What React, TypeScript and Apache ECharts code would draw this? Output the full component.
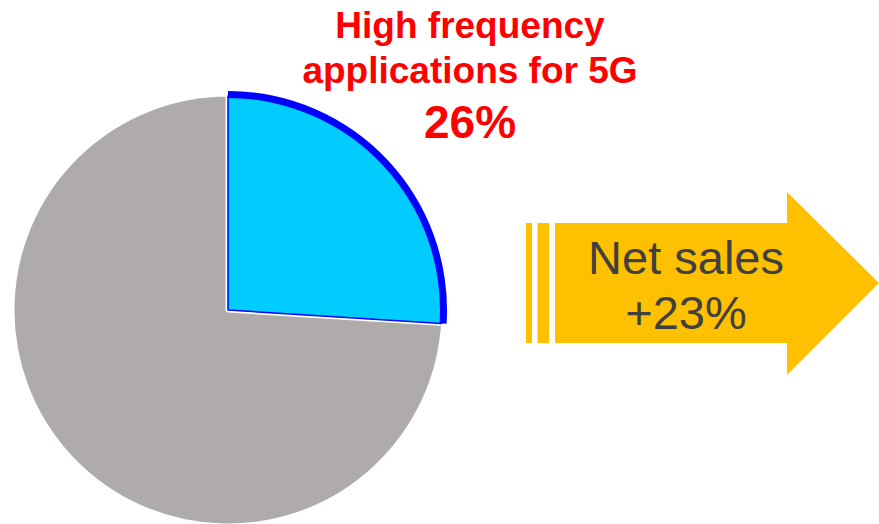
import React, { useEffect, useRef } from "react";
import * as echarts from "echarts";

const categories = ["High frequency applications for 5G", "Other"];
const shares = [26, 74];
const sliceColors = ["#00CCFF", "#AFABAB"];
const titleLines = ["High frequency", "applications for 5G"];
const growthLabel = "Net sales";
const growthValue = 23;

const FONT = "'Liberation Sans', Arial, Helvetica, sans-serif";

export default function App() {
  const ref = useRef<HTMLDivElement>(null);

  useEffect(() => {
    if (!ref.current) return;
    const chart = echarts.init(ref.current, null, { renderer: "svg" });
    const center = [228, 310];

    const option = {
      animation: false,
      backgroundColor: "#ffffff",
      series: [
        {
          type: "pie",
          silent: true,
          center,
          radius: 216,
          startAngle: 90,
          clockwise: true,
          label: { show: false },
          labelLine: { show: false },
          data: categories.map((name, i) => ({
            name,
            value: shares[i],
            itemStyle:
              i === 0
                ? { color: "rgba(0,0,0,0)", borderWidth: 0 }
                : { color: sliceColors[1], borderColor: "#ffffff", borderWidth: 5 },
          })),
        },
        {
          type: "pie",
          silent: true,
          center,
          radius: 214,
          startAngle: 90,
          clockwise: true,
          label: { show: false },
          labelLine: { show: false },
          data: categories.map((name, i) => ({
            name,
            value: shares[i],
            itemStyle:
              i === 0
                ? { color: sliceColors[0], borderColor: "#0000FF", borderWidth: 1.5 }
                : { color: "rgba(0,0,0,0)", borderWidth: 0 },
          })),
        },
        {
          type: "pie",
          silent: true,
          center,
          radius: [212, 219],
          startAngle: 90,
          clockwise: true,
          label: { show: false },
          labelLine: { show: false },
          data: categories.map((name, i) => ({
            name,
            value: shares[i],
            itemStyle:
              i === 0
                ? { color: "#0000FF", borderWidth: 0 }
                : { color: "rgba(0,0,0,0)", borderWidth: 0 },
          })),
        },
      ],
      graphic: [
        {
          type: "text",
          x: 470,
          y: 25,
          style: {
            text: titleLines[0],
            fill: "#FF0000",
            font: `bold 37px ${FONT}`,
            textAlign: "center",
            textVerticalAlign: "middle",
          },
        },
        {
          type: "text",
          x: 470,
          y: 70,
          style: {
            text: titleLines[1],
            fill: "#FF0000",
            font: `bold 37px ${FONT}`,
            textAlign: "center",
            textVerticalAlign: "middle",
          },
        },
        {
          type: "text",
          x: 470,
          y: 122,
          style: {
            text: `${shares[0]}%`,
            fill: "#FF0000",
            font: `bold 46px ${FONT}`,
            textAlign: "center",
            textVerticalAlign: "middle",
          },
        },
        {
          type: "rect",
          shape: { x: 526, y: 223, width: 6, height: 120 },
          style: { fill: "#FFC000" },
        },
        {
          type: "rect",
          shape: { x: 537.5, y: 223, width: 11.5, height: 120 },
          style: { fill: "#FFC000" },
        },
        {
          type: "polygon",
          shape: {
            points: [
              [555, 223],
              [787, 223],
              [787, 192],
              [879, 283],
              [787, 375],
              [787, 343],
              [555, 343],
            ],
          },
          style: { fill: "#FFC000" },
        },
        {
          type: "text",
          x: 686,
          y: 257,
          style: {
            text: growthLabel,
            fill: "#404040",
            font: `47px ${FONT}`,
            textAlign: "center",
            textVerticalAlign: "middle",
          },
        },
        {
          type: "text",
          x: 686,
          y: 312,
          style: {
            text: `+${growthValue}%`,
            fill: "#404040",
            font: `47px ${FONT}`,
            textAlign: "center",
            textVerticalAlign: "middle",
          },
        },
      ],
    };

    chart.setOption(option as any);
    return () => chart.dispose();
  }, []);

  return (
    <div
      ref={ref}
      style={{ position: "fixed", left: 0, top: 0, width: 879, height: 524 }}
    />
  );
}
